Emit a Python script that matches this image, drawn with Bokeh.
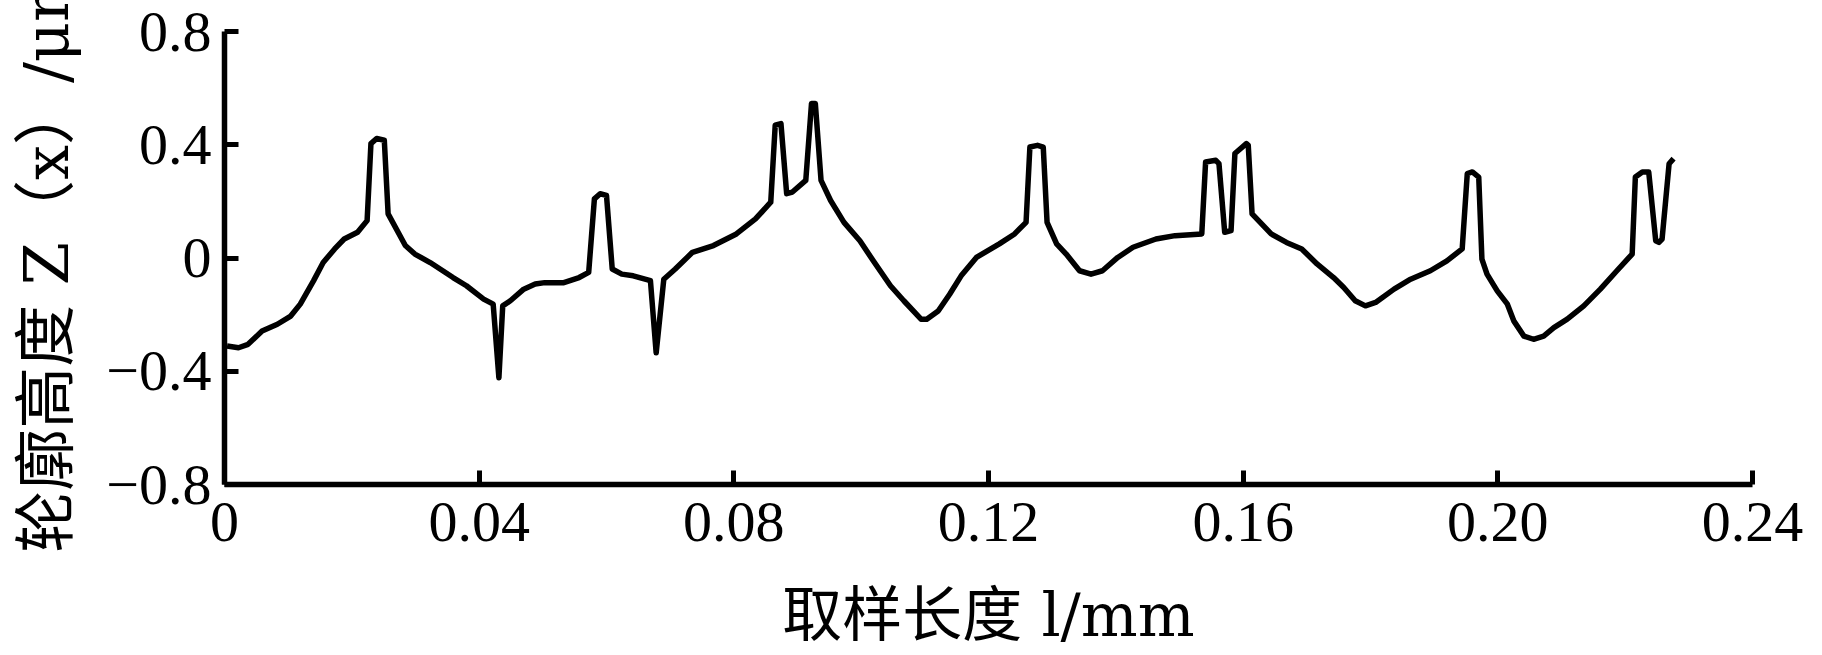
from bokeh.plotting import figure
from bokeh.models import FixedTicker, Range1d
from bokeh.embed import file_html
from bokeh.resources import INLINE

# profile data (sampling length l in mm, profile height Z(x) in um)
x_vals = [0.0004, 0.0022, 0.0037, 0.0059, 0.0083, 0.0104, 0.0119, 0.0140, 0.0155, 0.0173,
          0.0188, 0.0209, 0.0224, 0.0230, 0.0239, 0.0251, 0.0257, 0.0284, 0.0299, 0.0323,
          0.0359, 0.0380, 0.0407, 0.0422, 0.0431, 0.0437, 0.0449, 0.0470, 0.0488, 0.0503,
          0.0533, 0.0557, 0.0572, 0.0581, 0.0590, 0.0600, 0.0609, 0.0624, 0.0642, 0.0669,
          0.0678, 0.0690, 0.0708, 0.0735, 0.0768, 0.0804, 0.0834, 0.0858, 0.0865, 0.0874,
          0.0883, 0.0892, 0.0913, 0.0922, 0.0928, 0.0937, 0.0952, 0.0973, 0.0998, 0.1019,
          0.1046, 0.1067, 0.1094, 0.1103, 0.1121, 0.1139, 0.1157, 0.1181, 0.1217, 0.1241,
          0.1259, 0.1265, 0.1277, 0.1286, 0.1292, 0.1307, 0.1322, 0.1343, 0.1361, 0.1379,
          0.1403, 0.1427, 0.1463, 0.1493, 0.1535, 0.1541, 0.1557, 0.1562, 0.1571, 0.1581,
          0.1587, 0.1605, 0.1608, 0.1614, 0.1644, 0.1668, 0.1692, 0.1716, 0.1742, 0.1758,
          0.1776, 0.1792, 0.1808, 0.1837, 0.1863, 0.1894, 0.1920, 0.1944, 0.1952, 0.1960,
          0.1970, 0.1975, 0.1983, 0.1999, 0.2015, 0.2025, 0.2041, 0.2056, 0.2072, 0.2088,
          0.2109, 0.2135, 0.2161, 0.2187, 0.2211, 0.2216, 0.2227, 0.2237, 0.2248, 0.2253,
          0.2258, 0.2269, 0.2276]
z_vals = [-0.311, -0.317, -0.305, -0.258, -0.234, -0.205, -0.163, -0.080, -0.016, 0.032,
          0.067, 0.091, 0.132, 0.404, 0.422, 0.416, 0.156, 0.044, 0.014, -0.016,
          -0.069, -0.098, -0.145, -0.163, -0.423, -0.169, -0.151, -0.110, -0.092, -0.087,
          -0.087, -0.069, -0.051, 0.209, 0.227, 0.221, -0.039, -0.057, -0.063, -0.080,
          -0.335, -0.075, -0.039, 0.020, 0.044, 0.085, 0.138, 0.197, 0.469, 0.475,
          0.227, 0.233, 0.274, 0.546, 0.546, 0.274, 0.203, 0.126, 0.061, -0.010,
          -0.098, -0.151, -0.216, -0.216, -0.187, -0.128, -0.063, 0.002, 0.050, 0.085,
          0.126, 0.392, 0.398, 0.392, 0.126, 0.050, 0.014, -0.045, -0.057, -0.045,
          0.002, 0.038, 0.067, 0.079, 0.085, 0.339, 0.345, 0.333, 0.091, 0.097,
          0.369, 0.404, 0.398, 0.156, 0.085, 0.055, 0.032, -0.021, -0.069, -0.104,
          -0.151, -0.169, -0.157, -0.110, -0.075, -0.045, -0.010, 0.032, 0.298, 0.304,
          0.286, -0.004, -0.057, -0.116, -0.163, -0.222, -0.276, -0.287, -0.276, -0.246,
          -0.216, -0.169, -0.110, -0.045, 0.014, 0.286, 0.304, 0.304, 0.061, 0.055,
          0.067, 0.333, 0.351]

x_ticks = [0, 0.04, 0.08, 0.12, 0.16, 0.20, 0.24]
x_tick_labels = ["0", "0.04", "0.08", "0.12", "0.16", "0.20", "0.24"]
y_ticks = [-0.8, -0.4, 0, 0.4, 0.8]
y_tick_labels = ["\u22120.8", "\u22120.4", "0", "0.4", "0.8"]

x_title = "取样长度 l/mm"
y_title = "轮廓高度 Z（x）/μm"

TICK_FONT = "Liberation Serif, Noto Sans CJK SC"
TITLE_FONT = "DejaVu Serif, Noto Sans CJK SC"

p = figure(width=1820, height=652, output_backend="svg", toolbar_location=None,
           x_range=Range1d(0, 0.24), y_range=Range1d(-0.8, 0.8),
           min_border_left=224, min_border_right=68, min_border_top=31, min_border_bottom=167)
p.outline_line_color = None
p.xgrid.grid_line_color = None
p.ygrid.grid_line_color = None
p.background_fill_color = "white"
p.border_fill_color = "white"

p.line(x_vals, z_vals, line_color="black", line_width=5.5, line_join="round")

for ax, ticks, labels in ((p.xaxis[0], x_ticks, x_tick_labels), (p.yaxis[0], y_ticks, y_tick_labels)):
    ax.ticker = FixedTicker(ticks=ticks)
    ax.major_label_overrides = dict(zip(ticks, labels))
    ax.minor_tick_line_color = None
    ax.major_tick_in = 14
    ax.major_tick_out = 0
    ax.major_tick_line_width = 5
    ax.major_tick_line_color = "black"
    ax.axis_line_width = 5.5
    ax.axis_line_color = "black"
    ax.major_label_text_font = TICK_FONT
    ax.major_label_text_font_size = "58px"
    ax.major_label_text_color = "black"
    ax.axis_label_text_font = TITLE_FONT
    ax.axis_label_text_font_style = "normal"
    ax.axis_label_text_color = "black"

p.xaxis[0].axis_label = x_title
p.xaxis[0].axis_label_text_font_size = "60px"
p.xaxis[0].major_label_standoff = 18
p.xaxis[0].axis_label_standoff = 36

p.yaxis[0].axis_label = y_title
p.yaxis[0].axis_label_text_font_size = "62px"
p.yaxis[0].major_label_standoff = 13
p.yaxis[0].axis_label_standoff = 20

open("out.html", "w").write(file_html(p, INLINE))
